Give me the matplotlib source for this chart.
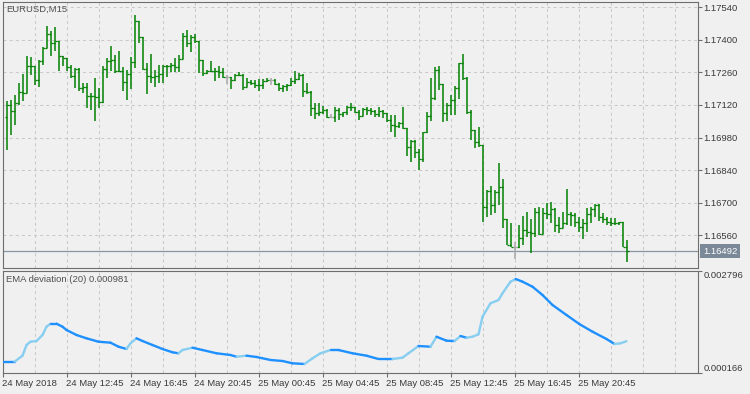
import numpy as np
import matplotlib
matplotlib.use("Agg")
import matplotlib.pyplot as plt
from matplotlib.collections import LineCollection
from matplotlib.transforms import blended_transform_factory

plt.rcParams['font.family'] = ['Liberation Sans', 'DejaVu Sans']
plt.rcParams['lines.scale_dashes'] = False

# ---------------- data ----------------
symbol = "EURUSD,M15"
indicator_label = "EMA deviation (20) 0.000981"
current_price = 1.16492

bar_open = [
    1.17069, 1.17120, 1.17093, 1.17128, 1.17174, 1.17171, 1.17288, 1.17285, 1.17226, 1.17307,
    1.17364, 1.17425, 1.17386, 1.17393, 1.17331, 1.17321, 1.17281, 1.17243, 1.17274, 1.17192,
    1.17197, 1.17157, 1.17160, 1.17155, 1.17132, 1.17274, 1.17307, 1.17314, 1.17264, 1.17267,
    1.17218, 1.17253, 1.17304, 1.17479, 1.17410, 1.17274, 1.17243, 1.17240, 1.17246, 1.17253,
    1.17288, 1.17286, 1.17290, 1.17281, 1.17318, 1.17414, 1.17386, 1.17410, 1.17393, 1.17311,
    1.17257, 1.17264, 1.17267, 1.17264, 1.17261, 1.17240, 1.17240, 1.17228, 1.17250, 1.17247,
    1.17197, 1.17218, 1.17215, 1.17207, 1.17204, 1.17221, 1.17228, 1.17228, 1.17210, 1.17192,
    1.17200, 1.17204, 1.17224, 1.17232, 1.17250, 1.17178, 1.17175, 1.17107, 1.17085, 1.17090,
    1.17099, 1.17069, 1.17069, 1.17098, 1.17081, 1.17088, 1.17110, 1.17113, 1.17088, 1.17072,
    1.17101, 1.17098, 1.17094, 1.17080, 1.17094, 1.17084, 1.17055, 1.17034, 1.17030, 1.17041,
    1.17020, 1.16941, 1.16966, 1.16917, 1.16887, 1.17003, 1.17074, 1.17148, 1.17270, 1.17210,
    1.17085, 1.17120, 1.17141, 1.17191, 1.17298, 1.17234, 1.17090, 1.17012, 1.16961, 1.16950,
    1.16682, 1.16751, 1.16691, 1.16748, 1.16769, 1.16629, 1.16519, 1.16512, 1.16512, 1.16548,
    1.16583, 1.16574, 1.16572, 1.16662, 1.16565, 1.16655, 1.16650, 1.16672, 1.16605, 1.16593,
    1.16612, 1.16651, 1.16648, 1.16619, 1.16597, 1.16615, 1.16652, 1.16672, 1.16691, 1.16640,
    1.16629, 1.16619, 1.16612, 1.16615, 1.16617, 1.16512,
]
bar_high = [
    1.17138, 1.17142, 1.17164, 1.17214, 1.17253, 1.17331, 1.17324, 1.17285, 1.17314, 1.17367,
    1.17457, 1.17436, 1.17454, 1.17392, 1.17331, 1.17321, 1.17292, 1.17278, 1.17278, 1.17214,
    1.17214, 1.17171, 1.17235, 1.17192, 1.17286, 1.17321, 1.17371, 1.17335, 1.17353, 1.17281,
    1.17271, 1.17324, 1.17507, 1.17479, 1.17410, 1.17300, 1.17338, 1.17271, 1.17290, 1.17292,
    1.17292, 1.17300, 1.17321, 1.17335, 1.17428, 1.17443, 1.17419, 1.17425, 1.17393, 1.17314,
    1.17271, 1.17307, 1.17278, 1.17286, 1.17278, 1.17247, 1.17240, 1.17254, 1.17261, 1.17254,
    1.17235, 1.17228, 1.17228, 1.17231, 1.17232, 1.17235, 1.17235, 1.17231, 1.17214, 1.17207,
    1.17210, 1.17235, 1.17264, 1.17257, 1.17253, 1.17214, 1.17181, 1.17128, 1.17128, 1.17114,
    1.17102, 1.17081, 1.17112, 1.17105, 1.17091, 1.17115, 1.17127, 1.17113, 1.17098, 1.17105,
    1.17112, 1.17105, 1.17098, 1.17112, 1.17098, 1.17084, 1.17077, 1.17077, 1.17048, 1.17112,
    1.17022, 1.16969, 1.16969, 1.16931, 1.17005, 1.17091, 1.17234, 1.17284, 1.17287, 1.17210,
    1.17128, 1.17162, 1.17201, 1.17301, 1.17338, 1.17240, 1.17098, 1.17012, 1.17025, 1.16950,
    1.16755, 1.16772, 1.16755, 1.16870, 1.16802, 1.16629, 1.16612, 1.16533, 1.16605, 1.16643,
    1.16662, 1.16629, 1.16676, 1.16683, 1.16676, 1.16700, 1.16705, 1.16676, 1.16640, 1.16662,
    1.16758, 1.16662, 1.16655, 1.16640, 1.16629, 1.16676, 1.16681, 1.16695, 1.16695, 1.16655,
    1.16638, 1.16633, 1.16633, 1.16619, 1.16619, 1.16540,
]
bar_low = [
    1.16927, 1.16992, 1.17035, 1.17121, 1.17135, 1.17171, 1.17250, 1.17207, 1.17198, 1.17292,
    1.17364, 1.17328, 1.17350, 1.17267, 1.17286, 1.17264, 1.17235, 1.17192, 1.17178, 1.17171,
    1.17107, 1.17099, 1.17052, 1.17107, 1.17128, 1.17235, 1.17264, 1.17257, 1.17261, 1.17178,
    1.17142, 1.17190, 1.17278, 1.17386, 1.17271, 1.17167, 1.17214, 1.17196, 1.17214, 1.17214,
    1.17238, 1.17260, 1.17261, 1.17261, 1.17318, 1.17367, 1.17346, 1.17386, 1.17257, 1.17245,
    1.17253, 1.17261, 1.17224, 1.17235, 1.17235, 1.17210, 1.17190, 1.17224, 1.17243, 1.17185,
    1.17196, 1.17204, 1.17192, 1.17181, 1.17190, 1.17217, 1.17204, 1.17204, 1.17181, 1.17175,
    1.17178, 1.17200, 1.17210, 1.17228, 1.17153, 1.17167, 1.17071, 1.17061, 1.17071, 1.17081,
    1.17065, 1.17062, 1.17048, 1.17055, 1.17069, 1.17077, 1.17094, 1.17084, 1.17055, 1.17074,
    1.17077, 1.17077, 1.17069, 1.17069, 1.17062, 1.17048, 1.17003, 1.16984, 1.17022, 1.17015,
    1.16902, 1.16874, 1.16891, 1.16841, 1.16876, 1.16999, 1.17051, 1.17141, 1.17184, 1.17047,
    1.17052, 1.17077, 1.17077, 1.17145, 1.17227, 1.17081, 1.16969, 1.16935, 1.16939, 1.16619,
    1.16639, 1.16648, 1.16655, 1.16691, 1.16593, 1.16519, 1.16512, 1.16459, 1.16505, 1.16519,
    1.16552, 1.16486, 1.16552, 1.16562, 1.16569, 1.16629, 1.16612, 1.16576, 1.16572, 1.16597,
    1.16605, 1.16600, 1.16597, 1.16576, 1.16543, 1.16576, 1.16612, 1.16640, 1.16623, 1.16615,
    1.16605, 1.16600, 1.16605, 1.16605, 1.16512, 1.16447,
]
bar_close = [
    1.17120, 1.17093, 1.17128, 1.17174, 1.17171, 1.17288, 1.17285, 1.17226, 1.17307, 1.17364,
    1.17425, 1.17386, 1.17393, 1.17331, 1.17321, 1.17281, 1.17243, 1.17274, 1.17192, 1.17197,
    1.17157, 1.17160, 1.17155, 1.17132, 1.17274, 1.17307, 1.17314, 1.17264, 1.17267, 1.17218,
    1.17253, 1.17304, 1.17479, 1.17410, 1.17274, 1.17243, 1.17240, 1.17246, 1.17253, 1.17288,
    1.17286, 1.17290, 1.17281, 1.17318, 1.17414, 1.17386, 1.17410, 1.17393, 1.17311, 1.17257,
    1.17264, 1.17267, 1.17264, 1.17261, 1.17240, 1.17240, 1.17228, 1.17250, 1.17247, 1.17197,
    1.17218, 1.17215, 1.17207, 1.17204, 1.17221, 1.17228, 1.17228, 1.17210, 1.17192, 1.17200,
    1.17204, 1.17224, 1.17232, 1.17250, 1.17178, 1.17175, 1.17107, 1.17085, 1.17090, 1.17099,
    1.17069, 1.17069, 1.17098, 1.17081, 1.17088, 1.17110, 1.17113, 1.17088, 1.17072, 1.17101,
    1.17098, 1.17094, 1.17080, 1.17094, 1.17084, 1.17055, 1.17034, 1.17030, 1.17041, 1.17020,
    1.16941, 1.16966, 1.16917, 1.16887, 1.17003, 1.17074, 1.17148, 1.17270, 1.17210, 1.17085,
    1.17120, 1.17141, 1.17191, 1.17298, 1.17234, 1.17090, 1.17012, 1.16961, 1.16950, 1.16682,
    1.16751, 1.16691, 1.16748, 1.16769, 1.16629, 1.16519, 1.16512, 1.16512, 1.16548, 1.16583,
    1.16574, 1.16572, 1.16662, 1.16565, 1.16655, 1.16650, 1.16672, 1.16605, 1.16593, 1.16612,
    1.16651, 1.16648, 1.16619, 1.16597, 1.16615, 1.16652, 1.16672, 1.16691, 1.16640, 1.16629,
    1.16619, 1.16612, 1.16615, 1.16617, 1.16512, 1.16492,
]

# EMA deviation readings (bar index, value)
ema_bar = [-1, 2, 4, 5, 6, 7.5, 9, 10, 11, 12.5, 14, 15, 17.5, 20, 23, 26, 28, 30, 31, 32.5,
           34, 36.5, 39, 41.5, 43, 44, 46.5, 49, 52.5, 56, 57.5, 60, 62.5, 66, 69, 71.5, 74.5,
           76.5, 78.5, 81, 83, 86.5, 90, 93, 96.5, 99, 100.5, 103, 106, 107.5, 110, 112, 113.5,
           115, 116.5, 118, 119, 121, 123, 124, 126, 127.3, 129, 131.5, 134, 136.5, 140, 143.3,
           146.5, 150, 152, 153.5, 155]
ema_value = [0.000456, 0.000456, 0.000610, 0.000884, 0.000969, 0.000987, 0.001141, 0.001354,
             0.001431, 0.001431, 0.001354, 0.001269, 0.001141, 0.001056, 0.000969, 0.000944,
             0.000841, 0.000782, 0.000928, 0.001056, 0.000987, 0.000884, 0.000782, 0.000697,
             0.000672, 0.000756, 0.000815, 0.000756, 0.000672, 0.000628, 0.000584, 0.000610,
             0.000577, 0.000500, 0.000474, 0.000415, 0.000397, 0.000543, 0.000672, 0.000756,
             0.000756, 0.000672, 0.000610, 0.000525, 0.000525, 0.000559, 0.000672, 0.000859,
             0.000841, 0.001097, 0.000995, 0.000987, 0.001115, 0.001072, 0.001097, 0.001159,
             0.001611, 0.001955, 0.002039, 0.002211, 0.002509, 0.002578, 0.002509, 0.002380,
             0.002167, 0.001911, 0.001654, 0.001416, 0.001226, 0.001038, 0.000910, 0.000928,
             0.000981]

price_ticks = [1.17540, 1.17400, 1.17260, 1.17120, 1.16980, 1.16840, 1.16700, 1.16560]
ind_ticks = [0.000166, 0.002796]
time_tick_bars = [-1, 15, 31, 47, 63, 79, 95, 111, 127, 143]
time_labels = ["24 May 2018", "24 May 12:45", "24 May 16:45", "24 May 20:45",
               "25 May 00:45", "25 May 04:45", "25 May 08:45", "25 May 12:45",
               "25 May 16:45", "25 May 20:45"]

# ---------------- styling ----------------
BG = '#f0f0f0'
GRID = '#c9c9c9'
SPINE = '#6e6e6e'
TXT = '#3a3a3a'
GREEN = '#008000'
DOJI = '#a8a8a8'
FS = 6.8

W, H = 750, 394
def fx(px):
    return px / W
def fy(py):
    return 1 - py / H

fig = plt.figure(figsize=(7.5, 3.94), dpi=100, facecolor=BG)
ax1 = fig.add_axes([fx(2.5), fy(267.5), fx(697.5) - fx(2.5), fy(1.5) - fy(267.5)])
ax2 = fig.add_axes([fx(2.5), fy(373), fx(697.5) - fx(2.5), fy(270.5) - fy(373)])

xmin, xmax = -1, 172.75
n = len(bar_close)
x = np.arange(n)
o = np.array(bar_open); h = np.array(bar_high); l = np.array(bar_low); c = np.array(bar_close)
colors = [DOJI if abs(oo - cc) < 1e-9 else GREEN for oo, cc in zip(o, c)]

grid_x = np.arange(-1, 173, 8)

for ax in (ax1, ax2):
    ax.set_facecolor(BG)
    ax.set_xlim(xmin, xmax)
    for s in ax.spines.values():
        s.set_color(SPINE)
        s.set_linewidth(0.8)
    for gx in grid_x:
        ax.axvline(gx, color=GRID, lw=0.75, dashes=(2.2, 2.2), zorder=0)

# top panel
ax1.set_ylim(1.164225, 1.175636)
for py in price_ticks:
    ax1.axhline(py, color=GRID, lw=0.75, dashes=(2.2, 2.2), zorder=0)
ax1.axhline(current_price, color='#8794a1', lw=0.9, zorder=1)

ax1.vlines(x, np.minimum(l, np.minimum(o, c)), np.maximum(h, np.maximum(o, c)),
           colors=colors, lw=1.1, zorder=3)
ax1.hlines(o, x - 0.5, x, colors=colors, lw=0.9, zorder=3)
ax1.hlines(c, x, x + 0.5, colors=colors, lw=0.9, zorder=3)

ax1.set_xticks([])
ax1.yaxis.tick_right()
ax1.set_yticks(price_ticks)
ax1.set_yticklabels([f"{v:.5f}" for v in price_ticks])
ax1.tick_params(axis='y', length=3, width=0.8, color=SPINE, pad=1.5,
                labelsize=FS, labelcolor=TXT)

trans = blended_transform_factory(fig.transFigure, ax1.transData)
fig.text(fx(703), current_price, f"{current_price:.5f}", transform=trans,
         ha='left', va='center', color='white', fontsize=FS,
         bbox=dict(boxstyle='square,pad=0.28', fc='#7b8898', ec='none'))

fig.text(fx(6.5), fy(9.5), symbol, ha='left', va='center', fontsize=FS, color='#505050')

# bottom panel
ax2.set_ylim(ind_ticks[0], ind_ticks[1])
ex = np.array(ema_bar, dtype=float)
ev = np.array(ema_value)
pts = np.column_stack([ex, ev])
segs = np.stack([pts[:-1], pts[1:]], axis=1)
seg_cols = ['#87cef0' if ev[k + 1] > ev[k] else '#1e90ff' for k in range(len(ev) - 1)]
lc = LineCollection(segs, colors=seg_cols, linewidths=1.7, capstyle='round', zorder=3)
ax2.add_collection(lc)

ax2.yaxis.tick_right()
ax2.set_yticks(ind_ticks)
ax2.set_yticklabels([f"{v:.6f}" for v in ind_ticks])
ax2.tick_params(axis='y', length=3, width=0.8, color=SPINE, pad=1.5,
                labelsize=FS, labelcolor=TXT)
ylabels = ax2.get_yticklabels()
ylabels[0].set_va('bottom')
ylabels[1].set_va('top')

ax2.set_xticks(time_tick_bars)
ax2.set_xticklabels(time_labels)
ax2.tick_params(axis='x', length=3, width=0.8, color=SPINE, pad=1.5,
                labelsize=FS, labelcolor=TXT)
for lbl in ax2.get_xticklabels():
    lbl.set_ha('left')

fig.text(fx(6), fy(280), indicator_label, ha='left', va='center', fontsize=FS, color='#505050')

fig.savefig("out.png", dpi=100, facecolor=BG)
